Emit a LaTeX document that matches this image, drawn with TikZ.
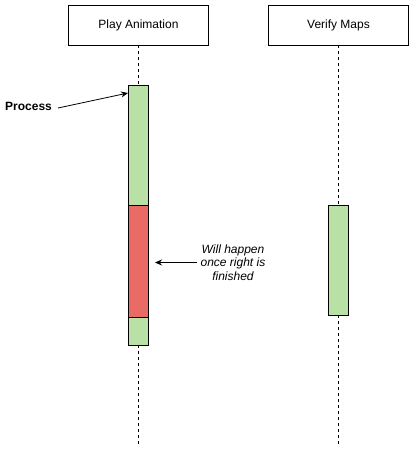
\documentclass[tikz,border=0pt]{standalone}
\usepackage{fontspec}
\setmainfont{Liberation Sans}
\usetikzlibrary{arrows.meta}
\definecolor{actgreen}{HTML}{B9E0A5}
\definecolor{actred}{HTML}{EA6B66}
\begin{document}
\begin{tikzpicture}[x=1pt,y=-1pt,
  head/.style={draw,thick,fill=white,minimum width=140pt,minimum height=40pt,inner sep=0pt,font=\fontsize{12}{14}\selectfont},
  life/.style={dashed,thick},
  actbox/.style={draw,thick,minimum width=20pt,inner sep=0pt},
  lbl/.style={font=\fontsize{12}{14}\selectfont},
  arr/.style={-{Stealth[length=7pt,width=6pt]},thick}]
\useasboundingbox (0,0) rectangle (414,451);
\coordinate (l1end) at (138.5,445);
\coordinate (l2end) at (338.5,445);
\node[head] (pa) at (138.5,25) {Play Animation};
\node[head] (vm) at (338.5,25) {Verify Maps};
\draw[life] (pa.south) -- (l1end);
\draw[life] (vm.south) -- (l2end);
\node[actbox,fill=actgreen,minimum height=260pt] (g1) at (138.5,215) {};
\node[actbox,fill=actred,minimum height=112pt] (r1) at (138.5,261) {};
\node[actbox,fill=actgreen,minimum height=110pt] (g2) at (338.5,260) {};
\node[lbl,font=\fontsize{12}{14}\selectfont\bfseries,anchor=west,inner sep=1pt] (proc) at (4,106) {Process};
\coordinate (pt) at (128,93);
\coordinate (ps) at (58,108);
\draw[arr] (ps) -- (pt);
\node[lbl,align=center,font=\fontsize{12}{13.7}\selectfont\itshape] (will) at (233,262.5) {Will happen\\once right is\\finished};
\coordinate (wt) at (155,262.5);
\draw[arr] (will.west) -- (wt);
\end{tikzpicture}
\end{document}
